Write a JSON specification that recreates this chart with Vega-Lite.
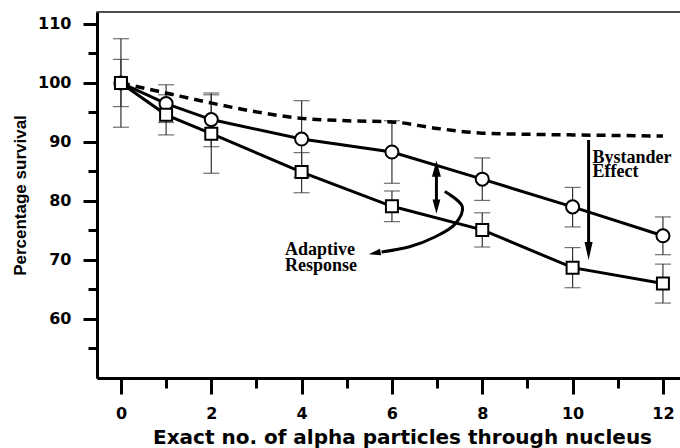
{
  "$schema": "https://vega.github.io/schema/vega-lite/v6.json",
  "autosize": {"type": "none"},
  "padding": {"left": 97, "top": 12, "right": 0, "bottom": 70},
  "width": 584,
  "height": 366,
  "background": "white",
  "config": {
    "view": {"stroke": "#444", "strokeWidth": 1.5},
    "axis": {
      "grid": false,
      "domainColor": "black",
      "domainWidth": 3,
      "tickColor": "black",
      "tickWidth": 3,
      "labelColor": "black",
      "labelFont": "DejaVu Sans",
      "labelFontWeight": "bold",
      "labelFontSize": 16,
      "titleColor": "black",
      "titleFontWeight": "bold"
    }
  },
  "datasets": {
    "pts": [
      {"n": 0, "survival": 100.0, "lo": 92.5, "hi": 107.5, "group": "circles"},
      {"n": 1, "survival": 96.5, "lo": 93.3, "hi": 99.7, "group": "circles"},
      {"n": 2, "survival": 93.8, "lo": 89.2, "hi": 98.3, "group": "circles"},
      {"n": 4, "survival": 90.5, "lo": 84.0, "hi": 97.0, "group": "circles"},
      {"n": 6, "survival": 88.3, "lo": 83.0, "hi": 93.6, "group": "circles"},
      {"n": 8, "survival": 83.7, "lo": 80.1, "hi": 87.3, "group": "circles"},
      {"n": 10, "survival": 79.0, "lo": 75.6, "hi": 82.3, "group": "circles"},
      {"n": 12, "survival": 74.1, "lo": 70.9, "hi": 77.3, "group": "circles"},
      {"n": 0, "survival": 100.0, "lo": 96.0, "hi": 104.0, "group": "squares"},
      {"n": 1, "survival": 94.6, "lo": 91.2, "hi": 98.0, "group": "squares"},
      {"n": 2, "survival": 91.4, "lo": 84.7, "hi": 98.0, "group": "squares"},
      {"n": 4, "survival": 84.9, "lo": 81.4, "hi": 88.2, "group": "squares"},
      {"n": 6, "survival": 79.1, "lo": 76.5, "hi": 81.7, "group": "squares"},
      {"n": 8, "survival": 75.1, "lo": 72.2, "hi": 78.0, "group": "squares"},
      {"n": 10, "survival": 68.7, "lo": 65.3, "hi": 72.1, "group": "squares"},
      {"n": 12, "survival": 66.0, "lo": 62.7, "hi": 69.3, "group": "squares"}
    ],
    "dash": [
      {"n": 0, "survival": 100.0},
      {"n": 1, "survival": 98.3},
      {"n": 2, "survival": 96.6},
      {"n": 3, "survival": 95.1},
      {"n": 4, "survival": 94.0},
      {"n": 5, "survival": 93.6},
      {"n": 6, "survival": 93.4},
      {"n": 7, "survival": 92.3},
      {"n": 8, "survival": 91.5},
      {"n": 9, "survival": 91.3},
      {"n": 10, "survival": 91.2},
      {"n": 11, "survival": 91.1},
      {"n": 12, "survival": 91.0}
    ],
    "curve": [
      {"k": 1, "n": 7.17, "survival": 81.6},
      {"k": 2, "n": 7.56, "survival": 79.0},
      {"k": 3, "n": 7.4, "survival": 76.1},
      {"k": 4, "n": 6.95, "survival": 73.9},
      {"k": 5, "n": 6.39, "survival": 72.25},
      {"k": 6, "n": 5.77, "survival": 71.36}
    ],
    "arrows": [
      {"n": 10.354, "from": 90.34, "to": 71.6},
      {"n": 6.985, "from": 85.47, "to": 79.03}
    ],
    "heads": [
      {"n": 10.354, "survival": 71.53, "dir": "down-long"},
      {"n": 6.985, "survival": 85.47, "dir": "up"},
      {"n": 6.985, "survival": 79.03, "dir": "down"},
      {"n": 5.617, "survival": 71.17, "dir": "left"}
    ],
    "notes": [
      {"n": 10.44, "survival": 86.5, "label": "Bystander"},
      {"n": 10.44, "survival": 84.15, "label": "Effect"},
      {"n": 3.63, "survival": 70.85, "label": "Adaptive"},
      {"n": 3.63, "survival": 68.05, "label": "Response"}
    ]
  },
  "resolve": {
    "axis": {"x": "independent", "y": "independent"},
    "scale": {"shape": "independent", "size": "independent"}
  },
  "layer": [
    {
      "data": {"name": "pts"},
      "mark": {"type": "line", "color": "black", "strokeWidth": 3},
      "encoding": {
        "x": {"field": "n", "type": "quantitative", "scale": {"domain": [-0.53, 12.4], "nice": false, "zero": false},
              "axis": {"orient": "bottom", "values": [0, 2, 4, 6, 8, 10, 12], "tickSize": 16, "labelPadding": 11,
                       "title": "Exact no. of alpha particles through nucleus", "titleFont": "DejaVu Sans", "titleFontSize": 20,
                       "titlePadding": 6, "titleX": 305}},
        "y": {"field": "survival", "type": "quantitative", "scale": {"domain": [50, 112.03], "nice": false, "zero": false},
              "axis": {"orient": "left", "values": [60, 70, 80, 90, 100, 110], "tickSize": 14, "labelPadding": 12,
                       "title": "Percentage survival", "titleFont": "Liberation Sans", "titleFontSize": 17, "titlePadding": 8}},
        "detail": {"field": "group"}
      }
    },
    {
      "data": {"name": "dash"},
      "transform": [{"aggregate": [{"op": "count", "as": "c"}]}],
      "mark": {"type": "rule", "color": "#444", "strokeWidth": 1.5},
      "encoding": {
        "y": {"datum": 112.03, "type": "quantitative", "axis": null}
      }
    },
    {
      "data": {"name": "pts"},
      "mark": {"type": "rule", "color": "#333", "strokeWidth": 1.2},
      "encoding": {
        "x": {"field": "n", "type": "quantitative",
              "axis": {"orient": "bottom", "values": [1, 3, 5, 7, 9, 11], "tickSize": 10, "labels": false, "domain": false, "title": null}},
        "y": {"field": "lo", "type": "quantitative",
              "axis": {"orient": "left", "values": [55, 65, 75, 85, 95, 105], "tickSize": 9, "labels": false, "domain": false, "title": null}},
        "y2": {"field": "hi"}
      }
    },
    {
      "data": {"name": "pts"},
      "mark": {"type": "tick", "orient": "horizontal", "color": "#333", "size": 16, "thickness": 1.2},
      "encoding": {
        "x": {"field": "n", "type": "quantitative", "axis": null},
        "y": {"field": "lo", "type": "quantitative", "axis": null}
      }
    },
    {
      "data": {"name": "pts"},
      "mark": {"type": "tick", "orient": "horizontal", "color": "#333", "size": 16, "thickness": 1.2},
      "encoding": {
        "x": {"field": "n", "type": "quantitative", "axis": null},
        "y": {"field": "hi", "type": "quantitative", "axis": null}
      }
    },
    {
      "data": {"name": "dash"},
      "mark": {"type": "line", "color": "black", "strokeWidth": 3.5, "strokeDash": [9, 6], "interpolate": "monotone"},
      "encoding": {
        "x": {"field": "n", "type": "quantitative", "axis": null},
        "y": {"field": "survival", "type": "quantitative", "axis": null}
      }
    },
    {
      "data": {"name": "curve"},
      "mark": {"type": "line", "color": "black", "strokeWidth": 3, "interpolate": "catmull-rom"},
      "encoding": {
        "x": {"field": "n", "type": "quantitative", "axis": null},
        "y": {"field": "survival", "type": "quantitative", "axis": null},
        "order": {"field": "k"}
      }
    },
    {
      "data": {"name": "arrows"},
      "mark": {"type": "rule", "color": "black", "strokeWidth": 3},
      "encoding": {
        "x": {"field": "n", "type": "quantitative", "axis": null},
        "y": {"field": "from", "type": "quantitative", "axis": null},
        "y2": {"field": "to"}
      }
    },
    {
      "data": {"name": "heads"},
      "mark": {"type": "point", "filled": true, "color": "black", "opacity": 1, "strokeWidth": 0},
      "encoding": {
        "x": {"field": "n", "type": "quantitative", "axis": null},
        "y": {"field": "survival", "type": "quantitative", "axis": null},
        "shape": {"field": "dir", "type": "nominal", "legend": null,
                  "scale": {"domain": ["down-long", "up", "down", "left"],
                            "range": ["M-0.45,-1L0.45,-1L0,1Z", "M-0.55,1L0.55,1L0,-1Z", "M-0.55,-1L0.55,-1L0,1Z", "M-0.985,0.174L0.889,-0.716L1.081,0.368Z"]}},
        "size": {"field": "dir", "type": "nominal", "legend": null,
                 "scale": {"domain": ["down-long", "up", "down", "left"], "range": [324, 144, 144, 196]}}
      }
    },
    {
      "data": {"name": "pts"},
      "mark": {"type": "point", "filled": false, "fill": "white", "stroke": "black", "strokeWidth": 2, "opacity": 1},
      "encoding": {
        "x": {"field": "n", "type": "quantitative", "axis": null},
        "y": {"field": "survival", "type": "quantitative", "axis": null},
        "shape": {"field": "group", "type": "nominal", "legend": null,
                  "scale": {"domain": ["circles", "squares"], "range": ["circle", "square"]}},
        "size": {"field": "group", "type": "nominal", "legend": null,
                 "scale": {"domain": ["circles", "squares"], "range": [170, 144]}}
      }
    },
    {
      "data": {"name": "notes"},
      "mark": {"type": "text", "align": "left", "baseline": "alphabetic", "font": "Liberation Serif", "fontWeight": "bold", "fontSize": 18, "color": "black"},
      "encoding": {
        "x": {"field": "n", "type": "quantitative", "axis": null},
        "y": {"field": "survival", "type": "quantitative", "axis": null},
        "text": {"field": "label"}
      }
    }
  ]
}
